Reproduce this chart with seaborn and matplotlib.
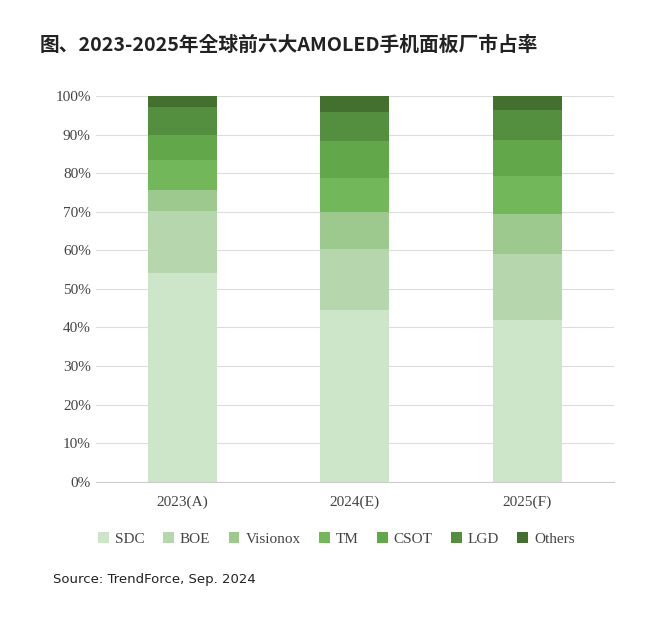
import matplotlib.pyplot as plt
import seaborn as sns
import pandas as pd
import numpy as np
from matplotlib import font_manager

cjk = [f.name for f in font_manager.fontManager.ttflist if 'CJK' in f.name]
cjk_name = 'Noto Sans CJK SC' if 'Noto Sans CJK SC' in cjk else (cjk[0] if cjk else 'DejaVu Sans')
plt.rcParams['font.family'] = ['Liberation Serif', cjk_name]

years = ['2023(A)', '2024(E)', '2025(F)']
makers = ['SDC', 'BOE', 'Visionox', 'TM', 'CSOT', 'LGD', 'Others']
sdc = [54.0, 44.6, 42.0]
boe = [16.3, 15.8, 17.1]
visionox = [5.4, 9.6, 10.3]
tm = [7.6, 8.8, 9.9]
csot = [6.7, 9.5, 9.3]
lgd = [7.3, 7.6, 7.8]
others = [2.7, 4.1, 3.6]
colors = ['#cde5c8', '#b6d7ae', '#9dc98f', '#72b85a', '#62a84b', '#548f40', '#44702f']

df = pd.DataFrame(dict(zip(makers, [sdc, boe, visionox, tm, csot, lgd, others])), index=years)

fig = plt.figure(figsize=(6.6, 6.24), dpi=100)
ax = fig.add_axes([0.145, 0.228, 0.785, 0.618])
cum = df.cumsum(axis=1)
for i, m in enumerate(makers[::-1]):
    sns.barplot(x=df.index, y=cum[m].values, color=colors[len(makers) - 1 - i],
                width=0.4, ax=ax, label=m, saturation=1)
ax.set_ylim(0, 100)
ax.set_yticks(np.arange(0, 101, 10))
ax.set_yticklabels([f'{v}%' for v in range(0, 101, 10)], fontsize=11, color='#444444')
ax.tick_params(axis='x', labelsize=11, colors='#444444', length=0, pad=10)
ax.tick_params(axis='y', length=0)
ax.grid(axis='y', color='#dddddd', lw=0.8)
ax.set_axisbelow(True)
for s in ['top', 'right', 'left']:
    ax.spines[s].set_visible(False)
ax.spines['bottom'].set_color('#cccccc')
ax.set_xlabel('')
ax.set_ylabel('')

handles, labels = ax.get_legend_handles_labels()
if ax.get_legend() is not None:
    ax.get_legend().remove()
order = [labels.index(m) for m in makers]
fig.legend([handles[i] for i in order], makers, loc='center', bbox_to_anchor=(0.51, 0.136),
           ncol=7, frameon=False, fontsize=11, handlelength=0.7, handleheight=0.7,
           columnspacing=1.2, handletextpad=0.4, labelcolor='#444444')

fig.text(0.06, 0.918, '图、2023-2025年全球前六大AMOLED手机面板厂市占率', fontsize=14.2,
         fontweight='bold', family=cjk_name, color='#222222')
fig.text(0.08, 0.065, 'Source: TrendForce, Sep. 2024', fontsize=9.5, family='DejaVu Sans', color='#222222')
fig.savefig('out.png', dpi=100, facecolor='white')
